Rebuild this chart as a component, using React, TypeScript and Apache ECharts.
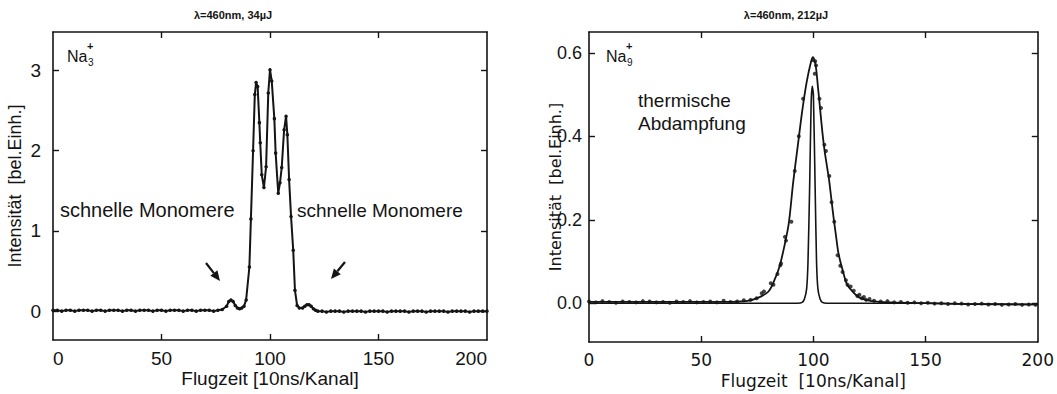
import React, { useEffect, useRef } from "react";
import * as echarts from "echarts";

// ---- Left panel: Na3+ time-of-flight spectrum ----
const leftChannel = [
  0, 2, 4, 6, 8, 10, 12, 14, 16, 18, 20, 22, 24, 26, 28, 30, 32, 34, 36, 38,
  40, 42, 44, 46, 48, 50, 52, 54, 56, 58, 60, 62, 64, 66, 68, 70, 72, 74, 76, 78,
  80, 81, 82, 83, 84, 85, 86, 87, 88, 89, 90.5, 91.2, 92.2, 93, 93.6, 94.3, 95.1, 95.5,
  96.2, 97.2, 98.2, 99.2, 100, 100.8, 102, 102.6, 103.8, 104.6, 105.4, 106.5, 107.4,
  108, 108.8, 109.7, 110.7, 111.5, 112.5, 113.5, 115, 116, 117, 118, 119, 120, 121,
  122, 124, 126, 128, 130, 132, 134, 136, 138, 140, 142, 144, 146, 148, 150, 152, 154,
  156, 158, 160, 162, 164, 166, 168, 170, 172, 174, 176, 178, 180, 182, 184, 186, 188,
  190, 192, 194, 196, 198, 200,
];
const leftIntensity = [
  0.01, 0.01, 0.0, 0.01, 0.01, 0.0, 0.01, 0.01, 0.01, 0.0, 0.01, 0.01, 0.0, 0.01, 0.01,
  0.01, 0.0, 0.01, 0.01, 0.0, 0.01, 0.01, 0.01, 0.0, 0.01, 0.01, 0.0, 0.01, 0.01, 0.01,
  0.0, 0.01, 0.01, 0.0, 0.01, 0.01, 0.01, 0.0, 0.01, 0.02,
  0.06, 0.12, 0.14, 0.12, 0.07, 0.04, 0.03, 0.04, 0.06, 0.14, 0.55, 1.15, 2.0, 2.7, 2.85,
  2.8, 2.35, 2.1, 1.7, 1.54, 1.8, 2.72, 3.01, 2.87, 2.4, 1.97, 1.47, 1.6, 1.79, 2.26, 2.43,
  2.2, 1.64, 1.18, 0.76, 0.26, 0.07, 0.04, 0.04, 0.06, 0.08, 0.08, 0.06, 0.03, 0.01,
  0.0, 0.0, -0.01, 0.0, 0.0, 0.0, -0.01, 0.0, 0.0, 0.0, 0.0, -0.01, 0.0, 0.0, 0.0, 0.0,
  -0.01, 0.0, 0.0, 0.0, 0.0, -0.01, 0.0, 0.0, 0.0, -0.01, 0.0, 0.0, 0.0, 0.0, -0.01, 0.0,
  0.0, 0.0, 0.0, -0.01, 0.0, 0.0, 0.0, 0.0,
];

// ---- Right panel: Na9+ measured points ----
const rightDotChannel = [
  0, 3, 6, 9, 12, 15, 18, 21, 24, 27, 30, 33, 36, 39, 42, 45, 48, 51, 54, 57, 60, 63, 66, 69,
  72, 74.7, 77, 78, 81, 82.2, 84, 85.3, 85.6, 87.3, 87.8, 90.2, 91.7, 93.5, 95.4,
  99.8, 100.6, 100.8, 101.2, 102.7, 103.4, 104.9, 105.6, 107.1, 108.1, 109.3, 110.8, 112,
  113, 114.5, 115.2, 116.6, 118, 119.6, 120.5, 121.6, 122.5, 123.5, 125,
  127, 130, 133, 136, 139, 142, 145, 148, 151, 154, 157, 160, 163, 166, 169, 172, 175, 178,
  181, 184, 187, 190, 193, 196, 199,
];
const rightDotIntensity = [
  0.004, 0.002, 0.005, 0.003, 0.001, 0.004, 0.003, 0.002, 0.005, 0.004, 0.002, 0.003,
  0.001, 0.004, 0.003, 0.005, 0.002, 0.003, 0.004, 0.002, 0.006, 0.003, 0.004, 0.007,
  0.008, 0.012, 0.024, 0.028, 0.048, 0.044, 0.07, 0.091, 0.095, 0.159, 0.15, 0.195, 0.317,
  0.4, 0.49,
  0.583, 0.55, 0.58, 0.57, 0.49, 0.468, 0.38, 0.365, 0.305, 0.242, 0.195, 0.115, 0.09,
  0.075, 0.055, 0.044, 0.04, 0.03, 0.017, 0.02, 0.012, 0.015, 0.008, 0.01,
  0.006, 0.004, 0.005, 0.002, 0.003, 0.001, 0.002, 0.0, 0.001, -0.001, 0.0, -0.002, 0.0,
  -0.001, -0.003, -0.002, -0.001, -0.003, -0.002, -0.004, -0.003, -0.002, -0.004, -0.003,
  -0.004,
];

// ---- Right panel: fitted thermal evaporation curve ----
const fitChannel = [
  0, 20, 40, 60, 70, 75, 80, 83, 85, 87, 89, 91, 93, 95, 97, 99, 99.8, 101, 102, 103, 104,
  105, 106, 107, 108, 109, 110, 111, 112, 113, 115, 118, 121, 126, 135, 150, 170, 200,
];
const fitIntensity = [
  0.003, 0.003, 0.003, 0.003, 0.005, 0.012, 0.028, 0.06, 0.09, 0.135, 0.19, 0.29, 0.375,
  0.46, 0.53, 0.58, 0.59, 0.57, 0.52, 0.465, 0.41, 0.365, 0.33, 0.295, 0.25, 0.205, 0.165,
  0.125, 0.1, 0.08, 0.045, 0.025, 0.012, 0.005, 0.002, 0.0, -0.002, -0.003,
];

// ---- Right panel: narrow (instrument) peak ----
const narrowChannel = [0, 40, 80, 93, 95, 96, 97, 97.6, 98.3, 99, 99.5, 100, 100.8, 101.4, 102, 103, 104, 106, 120, 150, 170, 200];
const narrowIntensity = [0.0, 0.0, 0.0, 0.0, 0.002, 0.01, 0.035, 0.1, 0.27, 0.48, 0.52, 0.5, 0.27, 0.1, 0.035, 0.01, 0.002, 0.0, 0.0, 0.0, -0.002, -0.003];

const xTickLabels = [0, 50, 100, 150, 200];
const xTickMarks = [50, 100, 150];
const leftYTicks = [0, 1, 2, 3];
const rightYTicks = [0, 0.2, 0.4, 0.6];

const zip = (xs: number[], ys: number[]) => xs.map((x, i) => [x, ys[i]]);

const INK = "#141414";
const SANS = "'Liberation Sans', Arial, Helvetica, sans-serif";
const ROUND = "'DejaVu Sans', Verdana, sans-serif";

function frameX(gridIndex: number, bottom: boolean, labelFont: string, labelSize: number, name?: string, nameGap?: number, nameSize?: number, alignEnds?: boolean) {
  return {
    type: "value",
    gridIndex,
    position: bottom ? "bottom" : "top",
    min: 0,
    max: 200,
    name: bottom ? name : undefined,
    nameLocation: "middle",
    nameGap,
    nameMoveOverlap: false,
    nameTextStyle: { fontFamily: labelFont, fontSize: nameSize, color: INK },
    axisLine: { show: true, onZero: false, lineStyle: { color: INK, width: 1.6 } },
    axisTick: { show: true, inside: true, length: 6, customValues: xTickMarks, lineStyle: { color: INK, width: 1.4 } },
    axisLabel: bottom
      ? {
          show: true,
          customValues: xTickLabels,
          fontFamily: labelFont,
          fontSize: labelSize,
          color: INK,
          margin: 9,
          alignMinLabel: alignEnds ? "left" : undefined,
          alignMaxLabel: alignEnds ? "right" : undefined,
        }
      : { show: false },
    splitLine: { show: false },
  };
}

function frameY(gridIndex: number, left: boolean, min: number, max: number, ticks: number[], opts: any) {
  return {
    type: "value",
    gridIndex,
    position: left ? "left" : "right",
    min,
    max,
    name: left ? opts.name : undefined,
    nameLocation: "middle",
    nameGap: opts.nameGap,
    nameMoveOverlap: false,
    nameRotate: 90,
    nameTextStyle: { fontFamily: opts.nameFont, fontSize: opts.nameSize, color: INK },
    axisLine: { show: true, onZero: false, lineStyle: { color: INK, width: 1.6 } },
    axisTick: { show: true, inside: true, length: 6, customValues: ticks, lineStyle: { color: INK, width: 1.4 } },
    axisLabel: left
      ? {
          show: true,
          customValues: ticks,
          fontFamily: opts.labelFont,
          fontSize: opts.labelSize,
          color: INK,
          margin: opts.labelMargin,
          formatter: opts.formatter,
        }
      : { show: false },
    splitLine: { show: false },
  };
}

function txt(x: number, y: number, text: string, font: string, align = "left", vAlign = "middle") {
  return {
    type: "text",
    x,
    y,
    silent: true,
    style: {
      text,
      font,
      fill: INK,
      align,
      verticalAlign: vAlign,
      textAlign: align,
      textVerticalAlign: vAlign,
    },
  };
}

function arrow(fromX: number, fromY: number, tipX: number, tipY: number) {
  const dx = tipX - fromX;
  const dy = tipY - fromY;
  const len = Math.sqrt(dx * dx + dy * dy);
  const ux = dx / len;
  const uy = dy / len;
  const headLen = 10;
  const half = 4.5;
  const bx = tipX - ux * headLen;
  const by = tipY - uy * headLen;
  return [
    { type: "line", silent: true, shape: { x1: fromX, y1: fromY, x2: bx, y2: by }, style: { stroke: INK, lineWidth: 2.2 } },
    {
      type: "polygon",
      silent: true,
      shape: { points: [[tipX, tipY], [bx - uy * half, by + ux * half], [bx + uy * half, by - ux * half]] },
      style: { fill: INK },
    },
  ];
}

export default function App() {
  const ref = useRef<HTMLDivElement>(null);

  useEffect(() => {
    document.body.style.margin = "0";
    if (!ref.current) return;
    const chart = echarts.init(ref.current, undefined, { renderer: "svg" });

    const option: any = {
      animation: false,
      backgroundColor: "#ffffff",
      grid: [
        { left: 53, top: 32, width: 434, height: 308 },
        { left: 589, top: 32, width: 454, height: 312 },
      ],
      xAxis: [
        frameX(0, true, SANS, 19, "Flugzeit [10ns/Kanal]", 29, 19, true),
        frameX(0, false, SANS, 19),
        frameX(1, true, ROUND, 17, "Flugzeit  [10ns/Kanal]", 30, 17, false),
        frameX(1, false, ROUND, 17),
      ],
      yAxis: [
        frameY(0, true, -0.36, 3.48, leftYTicks, {
          name: "Intensität  [bel.Einh.]",
          nameGap: 29,
          nameFont: SANS,
          nameSize: 18,
          labelFont: SANS,
          labelSize: 19,
          labelMargin: 12,
        }),
        frameY(0, false, -0.36, 3.48, leftYTicks, {}),
        frameY(1, true, -0.093, 0.65, rightYTicks, {
          name: "Intensität  [bel.Einh.]",
          nameGap: 26,
          nameFont: ROUND,
          nameSize: 16,
          labelFont: SANS,
          labelSize: 18,
          labelMargin: 7,
          formatter: (v: number) => v.toFixed(1),
        }),
        frameY(1, false, -0.093, 0.65, rightYTicks, {}),
      ],
      series: [
        {
          type: "line",
          xAxisIndex: 0,
          yAxisIndex: 0,
          data: zip(leftChannel, leftIntensity),
          symbol: "circle",
          symbolSize: 3.5,
          showSymbol: true,
          lineStyle: { color: INK, width: 2 },
          itemStyle: { color: INK },
          silent: true,
        },
        {
          type: "line",
          xAxisIndex: 2,
          yAxisIndex: 2,
          data: zip(fitChannel, fitIntensity),
          smooth: 0.3,
          showSymbol: false,
          lineStyle: { color: INK, width: 1.8 },
          silent: true,
        },
        {
          type: "line",
          xAxisIndex: 2,
          yAxisIndex: 2,
          data: zip(narrowChannel, narrowIntensity),
          smooth: 0.2,
          showSymbol: false,
          lineStyle: { color: INK, width: 1.6 },
          silent: true,
        },
        {
          type: "scatter",
          xAxisIndex: 2,
          yAxisIndex: 2,
          data: zip(rightDotChannel, rightDotIntensity),
          symbol: "circle",
          symbolSize: 4,
          itemStyle: { color: INK },
          silent: true,
        },
      ],
      graphic: [
        txt(233, 15, "λ=460nm, 34µJ", `bold 11px ${SANS}`, "center"),
        txt(786, 15, "λ=460nm, 212µJ", `bold 11px ${SANS}`, "center"),
        txt(67, 56, "Na", `16px ${SANS}`),
        txt(88, 62, "3", `10px ${SANS}`),
        txt(87, 46, "+", `bold 11px ${SANS}`),
        txt(606, 56, "Na", `16px ${SANS}`),
        txt(627, 62, "9", `10px ${SANS}`),
        txt(626, 46, "+", `bold 11px ${SANS}`),
        txt(60, 210, "schnelle Monomere", `20px ${SANS}`),
        txt(297, 210, "schnelle Monomere", `19px ${SANS}`),
        txt(638, 100, "thermische", `19px ${SANS}`),
        txt(638, 123, "Abdampfung", `19px ${SANS}`),
        ...arrow(206, 263, 220, 281),
        ...arrow(345, 262, 331, 279),
      ],
    };

    chart.setOption(option);
    return () => chart.dispose();
  }, []);

  return <div ref={ref} style={{ width: 1057, height: 394 }} />;
}
